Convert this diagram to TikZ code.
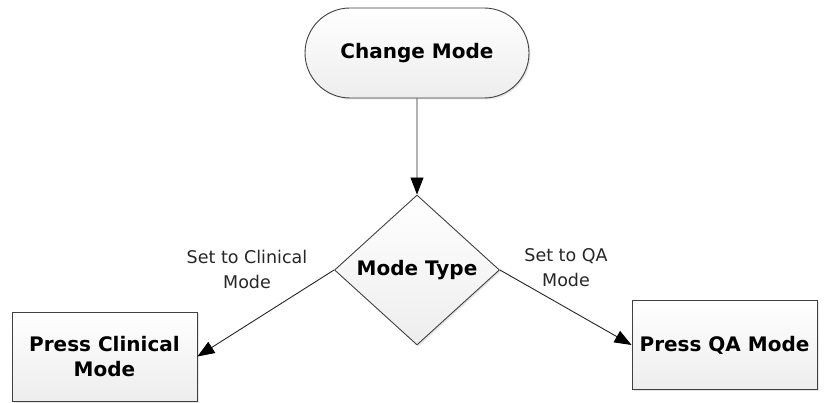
\documentclass[tikz,border=0pt]{standalone}
\usepackage{fontspec}
\setmainfont{DejaVu Sans}
\usetikzlibrary{arrows.meta,shapes.geometric,shapes.misc,shadows}
\tikzset{
  base/.style={draw=black!75, line width=0.9pt, top color=white, bottom color=black!7,
    drop shadow={shadow xshift=1.5pt, shadow yshift=-1.5pt, opacity=0.2},
    font=\bfseries\fontsize{20}{25}\selectfont, align=center, inner sep=0pt},
  term/.style={base, rounded rectangle, minimum width=224pt, minimum height=90pt},
  decision/.style={base, diamond, minimum width=165pt, minimum height=150pt, inner sep=0pt},
  proc/.style={base, rectangle, minimum width=185pt, minimum height=89pt},
  conn/.style={draw=black!85, line width=0.9pt, -{Triangle[length=17pt,width=13pt,fill=black,color=black]}},
  lbl/.style={font=\fontsize{17.5}{25}\selectfont, align=center, text=black!85}
}
\begin{document}
\begin{tikzpicture}[x=1pt,y=-1pt]
\useasboundingbox (0,0) rectangle (833,403);
\node[term] (change) at (417,53) {Change Mode};
\node[decision] (type) at (417,270) {Mode Type};
\node[proc] (clin) at (104.5,356.5) {Press Clinical\\Mode};
\node[proc] (qa) at (724.5,345) {Press QA Mode};
\draw[conn] (change) -- (type.north);
\draw[conn] (type.west) -- (clin.east);
\draw[conn] (type.east) -- (qa.west);
\node[lbl] (l1) at (247,269) {Set to Clinical\\Mode};
\node[lbl] (l2) at (566,268) {Set to QA\\Mode};
\end{tikzpicture}
\end{document}
